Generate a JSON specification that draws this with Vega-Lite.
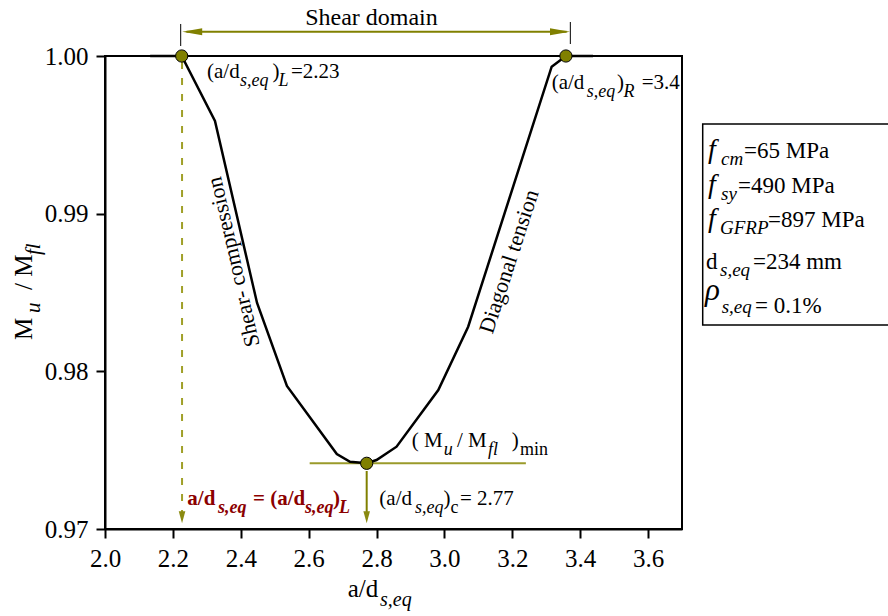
{
  "$schema": "https://vega.github.io/schema/vega-lite/v6.json",
  "width": 577,
  "height": 473,
  "autosize": {"type": "none"},
  "padding": {"left": 105, "top": 56, "right": 206, "bottom": 87},
  "background": "white",
  "config": {
    "view": {"stroke": "black", "strokeWidth": 2},
    "font": "Liberation Serif",
    "axis": {"labelFont": "Liberation Serif", "titleFont": "Liberation Serif"},
    "text": {"font": "Liberation Serif", "color": "black", "align": "left", "baseline": "alphabetic"}
  },
  "encoding": {
    "x": {
      "field": "x", "type": "quantitative",
      "scale": {"domain": [2.0, 3.7], "nice": false, "zero": false},
      "axis": {"values": [2.0, 2.2, 2.4, 2.6, 2.8, 3.0, 3.2, 3.4, 3.6], "format": ".1f", "title": null, "grid": false,
        "tickSize": 9, "tickWidth": 2, "tickColor": "black", "domainColor": "black", "domainWidth": 2,
        "labelFont": "Liberation Serif", "labelFontSize": 25, "labelColor": "black", "labelPadding": 8,
        "labelFlush": false, "labelOverlap": false}
    },
    "y": {
      "field": "y", "type": "quantitative",
      "scale": {"domain": [0.97, 1.0], "nice": false, "zero": false},
      "axis": {"values": [0.97, 0.98, 0.99, 1.0], "format": ".2f", "title": null, "grid": false,
        "tickSize": 9, "tickWidth": 2, "tickColor": "black", "domainColor": "black", "domainWidth": 2,
        "labelFont": "Liberation Serif", "labelFontSize": 25, "labelColor": "black", "labelPadding": 8,
        "labelFlush": false, "labelOverlap": false}
    }
  },
  "layer": [
    {
      "data": {"values": [{"y": 0.973333}, {"y": 0.976667}, {"y": 0.983333}, {"y": 0.986667}, {"y": 0.993333}, {"y": 0.996667}]},
      "mark": {"type": "rule", "color": "black", "strokeWidth": 2},
      "encoding": {"x": {"datum": 2.0}, "x2": {"datum": 2.012}}
    },
    {
      "data": {"values": [{"x": 2.603, "x2": 3.24, "y": 0.974167}]},
      "mark": {"type": "rule", "color": "#9a9a2a", "strokeWidth": 2},
      "encoding": {"x2": {"field": "x2"}}
    },
    {
      "data": {"values": [{"x": 2.227, "y": 0.99962, "y2": 0.97108}]},
      "mark": {"type": "rule", "color": "#a0a028", "strokeWidth": 2, "strokeDash": [7, 9]},
      "encoding": {"y2": {"field": "y2"}}
    },
    {
      "data": {"values": [{"x": 2.771, "y": 0.97368, "y2": 0.97108}]},
      "mark": {"type": "rule", "color": "#808000", "strokeWidth": 2},
      "encoding": {"y2": {"field": "y2"}}
    },
    {
      "data": {"values": [{"x": 2.227, "y": 0.97036}, {"x": 2.771, "y": 0.97036}]},
      "mark": {"type": "point", "shape": "M0,0L-0.55,-2L0.55,-2Z", "size": 144, "filled": true, "color": "#8a8a10", "opacity": 1, "strokeWidth": 0}
    },
    {
      "data": {"values": [{"x": 2.24, "x2": 3.36, "y": 1.00154}]},
      "mark": {"type": "rule", "color": "#808000", "strokeWidth": 2},
      "encoding": {"x2": {"field": "x2"}}
    },
    {
      "data": {"values": [{"x": 2.2275, "y": 1.00154}]},
      "mark": {"type": "point", "shape": "M0,0L2,-0.35L2,0.35Z", "size": 400, "filled": true, "color": "#808000", "opacity": 1, "strokeWidth": 0}
    },
    {
      "data": {"values": [{"x": 3.37, "y": 1.00154}]},
      "mark": {"type": "point", "shape": "M0,0L-2,-0.35L-2,0.35Z", "size": 400, "filled": true, "color": "#808000", "opacity": 1, "strokeWidth": 0}
    },
    {
      "data": {"values": [{"x": 2.223, "y": 1.00203, "y2": 1.000634}, {"x": 3.371, "y": 1.002156, "y2": 1.000761}]},
      "mark": {"type": "rule", "color": "black", "strokeWidth": 1},
      "encoding": {"y2": {"field": "y2"}}
    },
    {
      "data": {"values": [
        {"x": 2.133, "y": 1.0}, {"x": 2.226, "y": 1.0}, {"x": 2.324, "y": 0.995877},
        {"x": 2.448, "y": 0.984334}, {"x": 2.536, "y": 0.97907}, {"x": 2.683, "y": 0.974757},
        {"x": 2.722, "y": 0.974268}, {"x": 2.771, "y": 0.974167}, {"x": 2.8, "y": 0.974376},
        {"x": 2.859, "y": 0.97522}, {"x": 2.982, "y": 0.978816}, {"x": 3.07, "y": 0.982831},
        {"x": 3.316, "y": 0.999321}, {"x": 3.358, "y": 1.0}, {"x": 3.438, "y": 1.0}
      ]},
      "mark": {"type": "line", "color": "black", "strokeWidth": 2.5}
    },
    {
      "data": {"values": [{"x": 2.226, "y": 1.0}, {"x": 3.358, "y": 1.0}, {"x": 2.771, "y": 0.974167}]},
      "mark": {"type": "circle", "size": 150, "color": "#808000", "stroke": "black", "strokeWidth": 1, "opacity": 1}
    },
    {
      "data": {"values": [{"x": 3.761, "x2": 4.45, "y": 0.995687, "y2": 0.982939}]},
      "mark": {"type": "rect", "fill": "white", "fillOpacity": 0, "stroke": "black", "strokeWidth": 1.5},
      "encoding": {"x2": {"field": "x2"}, "y2": {"field": "y2"}}
    },
    {
      "data": {"values": [
        {"x": 2.3005, "y": 0.998605, "t": "(a/d"}, {"x": 2.4935, "y": 0.998605, "t": ")"}, {"x": 2.548, "y": 0.998605, "t": "=2.23"},
        {"x": 3.3161, "y": 0.997888, "t": "(a/d"}, {"x": 3.5085, "y": 0.997888, "t": ")"}, {"x": 3.5813, "y": 0.997888, "t": "=3.4"},
        {"x": 2.8082, "y": 0.971522, "t": "(a/d"}, {"x": 2.9973, "y": 0.971522, "t": ")"}, {"x": 3.046, "y": 0.971522, "t": "= 2.77"},
        {"x": 2.9036, "y": 0.97522, "t": "( M"}, {"x": 3.0371, "y": 0.97522, "t": "/ M"}, {"x": 3.1983, "y": 0.97522, "t": ")"}
      ]},
      "mark": {"type": "text", "fontSize": 21},
      "encoding": {"text": {"field": "t"}}
    },
    {
      "data": {"values": [
        {"x": 2.3978, "y": 0.998605, "t": "s,eq"}, {"x": 2.5112, "y": 0.998605, "t": "L"},
        {"x": 3.4193, "y": 0.997888, "t": "s,eq"}, {"x": 3.5277, "y": 0.997888, "t": "R"},
        {"x": 2.9134, "y": 0.971522, "t": "s,eq"},
        {"x": 2.998, "y": 0.97522, "t": "u"}, {"x": 3.1284, "y": 0.97522, "t": "fl"}
      ]},
      "mark": {"type": "text", "fontSize": 18, "fontStyle": "italic", "dy": 8},
      "encoding": {"text": {"field": "t"}}
    },
    {
      "data": {"values": [{"x": 3.018, "y": 0.971522, "t": "c"}, {"x": 3.2227, "y": 0.97522, "t": "min"}]},
      "mark": {"type": "text", "fontSize": 18, "dy": 8},
      "encoding": {"text": {"field": "t"}}
    },
    {
      "data": {"values": [{"x": 2.2425, "y": 0.971522, "t": "a/d"}, {"x": 2.4361, "y": 0.971522, "t": "= (a/d"}, {"x": 2.6718, "y": 0.971522, "t": ")"}]},
      "mark": {"type": "text", "fontSize": 21, "fontWeight": "bold", "color": "#8B0000"},
      "encoding": {"text": {"field": "t"}}
    },
    {
      "data": {"values": [{"x": 2.3329, "y": 0.971522, "t": "s,eq"}, {"x": 2.5893, "y": 0.971522, "t": "s,eq"}, {"x": 2.6894, "y": 0.971522, "t": "L"}]},
      "mark": {"type": "text", "fontSize": 18, "fontWeight": "bold", "fontStyle": "italic", "color": "#8B0000", "dy": 8},
      "encoding": {"text": {"field": "t"}}
    },
    {
      "data": {"values": [{"x": 2.785, "y": 1.001966, "t": "Shear domain"}]},
      "mark": {"type": "text", "fontSize": 24, "align": "center"},
      "encoding": {"text": {"field": "t"}}
    },
    {
      "data": {"values": [{"x": 2.3786, "y": 0.986935, "t": "Shear- compression"}]},
      "mark": {"type": "text", "fontSize": 22, "align": "center", "baseline": "middle", "angle": 257},
      "encoding": {"text": {"field": "t"}}
    },
    {
      "data": {"values": [{"x": 3.1903, "y": 0.986966, "t": "Diagonal tension"}]},
      "mark": {"type": "text", "fontSize": 22, "align": "center", "baseline": "middle", "angle": 288},
      "encoding": {"text": {"field": "t"}}
    },
    {
      "data": {"values": [{"x": 2.7151, "y": 0.965668, "t": "a/d"}]},
      "mark": {"type": "text", "fontSize": 25},
      "encoding": {"text": {"field": "t"}}
    },
    {
      "data": {"values": [{"x": 2.8102, "y": 0.965668, "t": "s,eq"}]},
      "mark": {"type": "text", "fontSize": 20, "fontStyle": "italic", "dy": 9},
      "encoding": {"text": {"field": "t"}}
    },
    {
      "data": {"values": [{"x": 1.78492, "y": 0.981988, "t": "M"}, {"x": 1.78492, "y": 0.985159, "t": "/ M"}]},
      "mark": {"type": "text", "fontSize": 25, "angle": 270},
      "encoding": {"text": {"field": "t"}}
    },
    {
      "data": {"values": [{"x": 1.78492, "y": 0.9837, "t": "u"}, {"x": 1.78492, "y": 0.987378, "t": "fl"}]},
      "mark": {"type": "text", "fontSize": 21, "fontStyle": "italic", "angle": 270, "dy": 8},
      "encoding": {"text": {"field": "t"}}
    },
    {
      "data": {"values": [{"x": 3.7766, "y": 0.993512, "t": "f"}, {"x": 3.7766, "y": 0.991292, "t": "f"}, {"x": 3.7766, "y": 0.989173, "t": "f"}]},
      "mark": {"type": "text", "fontSize": 28, "fontStyle": "italic"},
      "encoding": {"text": {"field": "t"}}
    },
    {
      "data": {"values": [{"x": 3.7678, "y": 0.984524, "t": "ρ"}]},
      "mark": {"type": "text", "fontSize": 31, "fontStyle": "italic"},
      "encoding": {"text": {"field": "t"}}
    },
    {
      "data": {"values": [
        {"x": 3.8149, "y": 0.993512, "t": "cm"}, {"x": 3.8149, "y": 0.991292, "t": "sy"},
        {"x": 3.812, "y": 0.989173, "t": "GFRP"}, {"x": 3.812, "y": 0.986472, "t": "s,eq"},
        {"x": 3.817, "y": 0.984144, "t": "s,eq"}
      ]},
      "mark": {"type": "text", "fontSize": 19, "fontStyle": "italic", "dy": 7},
      "encoding": {"text": {"field": "t"}}
    },
    {
      "data": {"values": [
        {"x": 3.8827, "y": 0.993512, "t": "=65 MPa"}, {"x": 3.865, "y": 0.991292, "t": "=490 MPa"},
        {"x": 3.9534, "y": 0.989173, "t": "=897 MPa"}, {"x": 3.7707, "y": 0.986472, "t": "d"},
        {"x": 3.9092, "y": 0.986472, "t": "=234 mm"}, {"x": 3.9151, "y": 0.9837, "t": "= 0.1%"}
      ]},
      "mark": {"type": "text", "fontSize": 23},
      "encoding": {"text": {"field": "t"}}
    }
  ]
}
